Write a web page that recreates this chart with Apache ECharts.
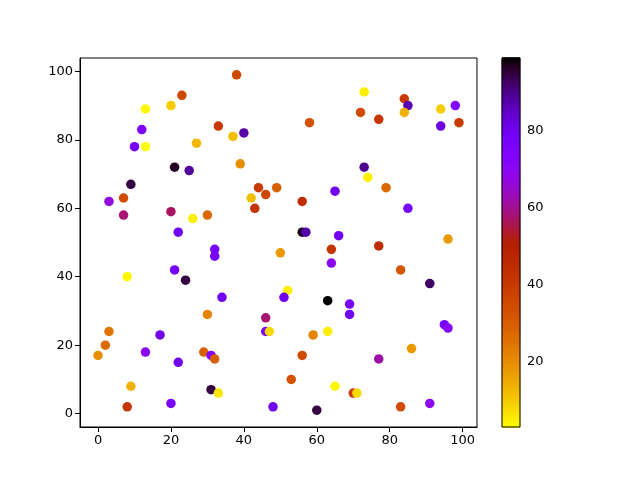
<!DOCTYPE html>
<html><head><meta charset="utf-8">
<script src="https://cdn.jsdelivr.net/npm/echarts@6/dist/echarts.min.js"></script>
<style>html,body{margin:0;padding:0;background:#fff}#c{width:640px;height:480px}</style>
</head><body><div id="c"></div>
<script>
const xs = [23,13,20,33,12,10,13,27,21,25,9,3,7,7,20,26,30,22,38,37,40,58,39,44,49,46,42,43,56,65,56,57,66,73,72,77,84,85,84,94,98,94,99,73,74,79,85,96,77,32,32,8,21,24,34,30,3,2,0,17,13,22,29,31,32,9,31,33,8,20,50,64,64,52,51,63,69,69,46,46,47,59,63,56,53,65,70,71,48,60,83,91,95,96,86,77,83,91];
const ys = [93,89,90,84,83,78,78,79,72,71,67,62,63,58,59,57,58,53,99,81,82,85,73,66,66,64,63,60,62,65,53,53,52,94,88,86,92,90,88,89,90,84,85,72,69,66,60,51,49,48,46,40,42,39,34,29,24,20,17,23,18,15,18,17,16,8,7,6,2,3,47,48,44,36,34,33,32,29,28,24,24,23,24,17,10,8,6,6,2,1,42,38,26,25,19,16,2,3];
const cs = [36,4,10,40,76,78,3,13,97,89,95,67,35,58,57,5,28,80,36,12,88,33,20,40,30,36,12,42,45,80,98,88,80,5,35,42,40,87,14,10,75,82,40,90,5,28,78,18,45,78,78,4,78,95,80,22,25,27,20,80,70,80,30,75,30,14,95,6,42,78,18,42,70,5,80,99,78,80,58,78,8,22,5,35,33,4,40,8,80,95,32,93,78,72,18,62,35,70];
const xTicks = [0,20,40,60,80,100];
const yTicks = [0,20,40,60,80,100];
const cTicks = [20,40,60,80];
const cMin = 3, cMax = 99;

// gnuplot_r palette
function gnu(s){
  const r = Math.sqrt(s), g = s*s*s, b = Math.max(0, Math.min(1, Math.sin(2*Math.PI*s)));
  const h = v => Math.round(Math.max(0,Math.min(1,v))*255).toString(16).padStart(2,'0');
  return '#'+h(r)+h(g)+h(b);
}
const palette = [];
for (let i=0;i<=64;i++){ palette.push(gnu(1 - i/64)); }

const pts = xs.map((x,i)=>[x, ys[i], cs[i]]);
const slices = [];
const step = (cMax-cMin)/200;
for (let i=0;i<200;i++){ const a=cMin+i*step; slices.push([a, a+step, a+step/2]); }

const font = 'DejaVu Sans';
const chart = echarts.init(document.getElementById('c'), null, {renderer:'canvas'});
chart.setOption({
  animation:false,
  backgroundColor:'#fff',
  visualMap:{show:false, type:'continuous', min:cMin, max:cMax, dimension:2, seriesIndex:[0,1], inRange:{color:palette}},
  grid:[
    {left:80, top:58, width:397, height:369, show:true, borderColor:'#000', borderWidth:1, backgroundColor:'transparent'},
    {left:502, top:58, width:18, height:369, show:true, borderColor:'#000', borderWidth:1, backgroundColor:'transparent', z:5}
  ],
  xAxis:[
    {type:'value', gridIndex:0, min:-4.95, max:103.95, splitLine:{show:false},
     axisLine:{show:true, onZero:false, lineStyle:{color:'#000', width:1}},
     axisTick:{show:true, length:5, customValues:xTicks, lineStyle:{color:'#000'}},
     axisLabel:{customValues:xTicks, color:'#000', fontFamily:font, fontSize:13, margin:7}},
    {type:'value', gridIndex:1, min:0, max:1, show:false}
  ],
  yAxis:[
    {type:'value', gridIndex:0, min:-3.9, max:103.9, splitLine:{show:false},
     axisLine:{show:true, onZero:false, lineStyle:{color:'#000', width:1}},
     axisTick:{show:true, length:5, customValues:yTicks, lineStyle:{color:'#000'}},
     axisLabel:{customValues:yTicks, color:'#000', fontFamily:font, fontSize:13, margin:7}},
    {type:'value', gridIndex:1, min:cMin, max:cMax, position:'right', splitLine:{show:false},
     axisLine:{show:false},
     axisTick:{show:true, length:5, customValues:cTicks, lineStyle:{color:'#000'}},
     axisLabel:{customValues:cTicks, color:'#000', fontFamily:font, fontSize:13, margin:7}}
  ],
  series:[
    {type:'scatter', xAxisIndex:0, yAxisIndex:0, data:pts, symbolSize:9.5, itemStyle:{opacity:1}},
    {type:'custom', xAxisIndex:1, yAxisIndex:1, data:slices, encode:{y:[0,1]},
     renderItem:function(params, api){
       const p0 = api.coord([0, api.value(0)]);
       const p1 = api.coord([1, api.value(1)]);
       const c = api.visual('color');
       return {type:'rect', shape:{x:p0[0], y:p1[1]-0.5, width:p1[0]-p0[0], height:p0[1]-p1[1]+1}, style:{fill:c, stroke:c, lineWidth:0.5}};
     }}
  ]
});
</script></body></html>
